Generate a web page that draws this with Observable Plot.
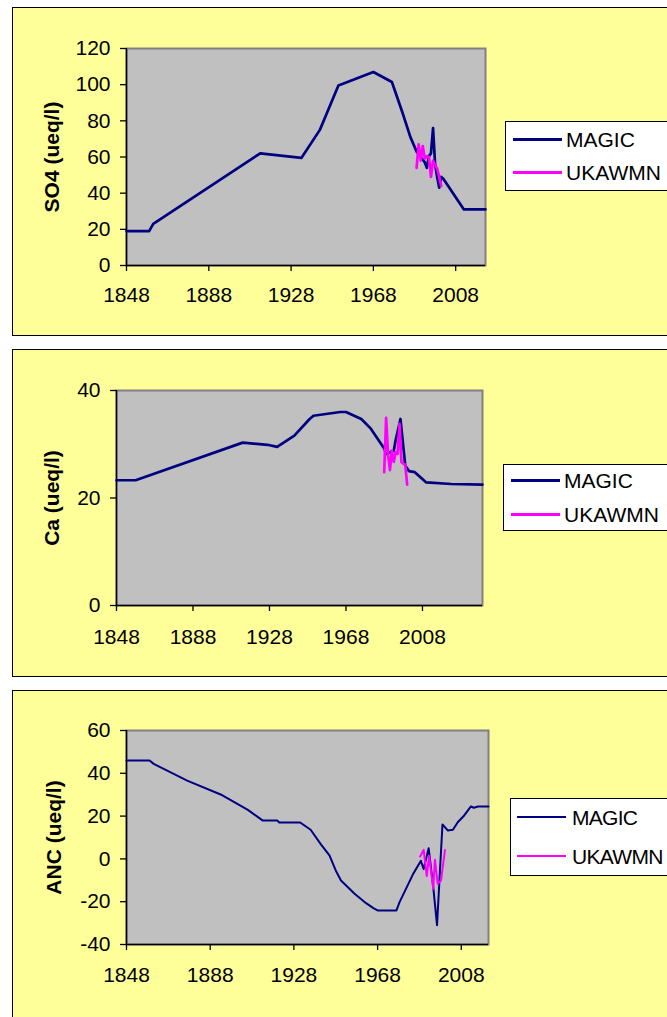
<!DOCTYPE html>
<html><head><meta charset="utf-8">
<script src="https://cdn.jsdelivr.net/npm/d3@7"></script>
<script src="https://cdn.jsdelivr.net/npm/@observablehq/plot@0.6"></script>
<style>
html,body{margin:0;padding:0;background:#fff;}
body{width:667px;height:1017px;overflow:hidden;position:relative;font-family:"Liberation Sans",Arial,sans-serif;}
.panel{position:absolute;left:12px;width:680px;background:#FFFF99;border:1px solid #000;box-sizing:border-box;}
.chart{position:absolute;left:12px;}
.legend{position:absolute;width:220px;background:#fff;border:1px solid #000;box-sizing:border-box;}
.lline{position:absolute;}
.ltext{position:absolute;font-size:21px;line-height:21px;color:#000;white-space:nowrap;}
</style>
</head><body>
<script>
// ---------- data ----------
const xTickYears = [1848, 1888, 1928, 1968, 2008];

const so4MagicYears  = [1848,1859,1861,1913,1933,1942,1951,1968,1977,1982,1986,1989,1991,1993,1994,1995,1996,1997,1998,1999,2000,2001,2002,2012,2022.5];
const so4MagicValues = [19,19,23,62,59.5,75,99.5,107,101.5,85,71,63,60,57,54,60.5,62,76,56,49,43,49,48,31,31];
const so4UkYears     = [1989,1990,1991,1992,1993,1994,1995,1996,1997,1998,1999,2000,2001];
const so4UkValues    = [54,67,58,66,59,60.5,60,49,58,55.5,53.5,49,44];
const so4Ticks       = [0,20,40,60,80,100,120];

const caMagicYears   = [1848,1858,1914,1927,1932,1941,1949,1951,1965,1968,1976,1981,1988,1989,1991,1993,1994,1996.5,1998,1999,2001,2004,2010,2023,2039.4];
const caMagicValues  = [23.3,23.3,30.3,29.9,29.5,31.6,34.7,35.3,36,36,34.7,32.9,29.2,28.2,28.5,28.8,30.8,34.7,29.5,26,25,24.8,22.9,22.6,22.5];
const caUkYears      = [1988,1989,1990,1991,1992,1993,1994,1995,1996,1997,1998,1999,2000];
const caUkValues     = [24.8,34.9,28.2,25.2,28.8,26.7,28.5,28.2,33.8,26.7,26.4,26.2,22.5];
const caTicks        = [0,20,40];

const ancMagicYears  = [1848,1859,1861,1877,1893,1906,1913,1920,1921,1931,1936,1941,1945,1948,1950.5,1957,1962.5,1966,1968,1977,1978.5,1985,1988.7,1990,1992.4,1994.6,1996.4,1999,2001.5,2004,2006.3,2009.4,2012.6,2014,2016,2021];
const ancMagicValues = [46,46,44.4,36.6,30.1,22.9,18,18,17,17,13.6,6.7,1.6,-5.4,-10.1,-16.3,-20.7,-23,-24.1,-24.1,-20.2,-7,-0.9,-4.7,5,-13.2,-31,16.1,13.3,13.6,17.1,20.3,24.5,23.9,24.5,24.5];
const ancUkYears     = [1988.3,1990,1991.5,1992.6,1994.6,1995.4,1996.7,1998.3,2000.2];
const ancUkValues    = [1.1,4.2,-8,1.4,-14,-0.4,-11.6,-10.1,4.2];
const ancTicks       = [-40,-20,0,20,40,60];

const seriesNames  = ["MAGIC", "UKAWMN"];
const seriesColors = ["#000080", "#FF00FF"];

const toRows = (ys, vs) => ys.map((y, i) => ({year: y, value: vs[i]}));

// ---------- layout ----------
const panels = [
  {boxTop: 7, boxH: 329, svgTop: 8, mL: 114, mR: 182, mB: 70, xMax: 2022.5, yDomain: [0,120], yTicks: so4Ticks,
   title: "SO4 (ueq/l)", titleDx: -74, padX: 16, lw: 2.7,
   magic: toRows(so4MagicYears, so4MagicValues), uk: toRows(so4UkYears, so4UkValues),
   leg: {left: 505, top: 121, h: 70, y1: 139.5, y2: 172.5, x0: 513, x1: 562, tx: 566, lw: 3, ls: 0}},
  {boxTop: 349, boxH: 328, svgTop: 350, mL: 104, mR: 185, mB: 72, xMax: 2039.4, yDomain: [0,40], yTicks: caTicks,
   title: "Ca (ueq/l)", titleDx: -64, padX: 18, lw: 2.7,
   magic: toRows(caMagicYears, caMagicValues), uk: toRows(caUkYears, caUkValues),
   leg: {left: 503, top: 464, h: 67, y1: 480, y2: 514, x0: 511, x1: 560, tx: 564, lw: 3, ls: 0}},
  {boxTop: 690, boxH: 340, svgTop: 690, mL: 114, mR: 179, mB: 73, xMax: 2021, yDomain: [-40,60], yTicks: ancTicks,
   title: "ANC (ueq/l)", titleDx: -72, padX: 17, lw: 2,
   magic: toRows(ancMagicYears, ancMagicValues), uk: toRows(ancUkYears, ancUkValues),
   leg: {left: 510, top: 798, h: 78, y1: 817, y2: 856, x0: 517, x1: 566, tx: 572, lw: 2, ls: -0.7}}
];

for (const p of panels) {
  const box = document.createElement("div");
  box.className = "panel";
  box.style.top = p.boxTop + "px";
  box.style.height = p.boxH + "px";
  document.body.appendChild(box);

  const chart = Plot.plot({
    width: 655, height: 327,
    marginLeft: p.mL, marginRight: p.mR, marginTop: 40, marginBottom: p.mB,
    x: {domain: [1848, p.xMax]},
    y: {domain: p.yDomain},
    style: {background: "transparent", fontFamily: "'Liberation Sans', Arial, sans-serif", fontSize: "21px", color: "#000", overflow: "visible", maxWidth: "none"},
    marks: [
      Plot.frame({fill: "#C0C0C0", stroke: "#808080", strokeWidth: 2}),
      Plot.axisX({ticks: xTickYears, tickFormat: d => String(d), tickSize: 6, tickPadding: p.padX, fontSize: 21, label: null, stroke: "#000", strokeWidth: 1.3}),
      Plot.axisY({ticks: p.yTicks, tickFormat: d => String(d), tickSize: 6, tickPadding: 10, fontSize: 21, label: null, stroke: "#000", strokeWidth: 1.3}),
      Plot.ruleX([1848], {stroke: "#000", strokeWidth: 1.5}),
      Plot.ruleY([p.yDomain[0]], {stroke: "#000", strokeWidth: 1.5}),
      Plot.line(p.magic, {x: "year", y: "value", stroke: seriesColors[0], strokeWidth: p.lw}),
      Plot.line(p.uk, {x: "year", y: "value", stroke: seriesColors[1], strokeWidth: p.lw}),
      Plot.text([p.title], {frameAnchor: "left", textAnchor: "middle", rotate: -90, dx: p.titleDx, fontWeight: "bold", fontSize: 21, fill: "#000"})
    ]
  });
  chart.classList.add("chart");
  chart.style.top = p.svgTop + "px";
  document.body.appendChild(chart);

  const L = p.leg;
  const lg = document.createElement("div");
  lg.className = "legend";
  lg.style.left = L.left + "px";
  lg.style.top = L.top + "px";
  lg.style.height = L.h + "px";
  document.body.appendChild(lg);
  [L.y1, L.y2].forEach((yy, i) => {
    const ln = document.createElement("div");
    ln.className = "lline";
    ln.style.left = L.x0 + "px";
    ln.style.width = (L.x1 - L.x0) + "px";
    ln.style.top = (yy - L.lw / 2) + "px";
    ln.style.height = L.lw + "px";
    ln.style.background = seriesColors[i];
    document.body.appendChild(ln);
    const tx = document.createElement("div");
    tx.className = "ltext";
    tx.style.left = L.tx + "px";
    tx.style.top = (yy - 10.3) + "px";
    tx.style.letterSpacing = L.ls + "px";
    tx.textContent = seriesNames[i];
    document.body.appendChild(tx);
  });
}
</script>
</body></html>
